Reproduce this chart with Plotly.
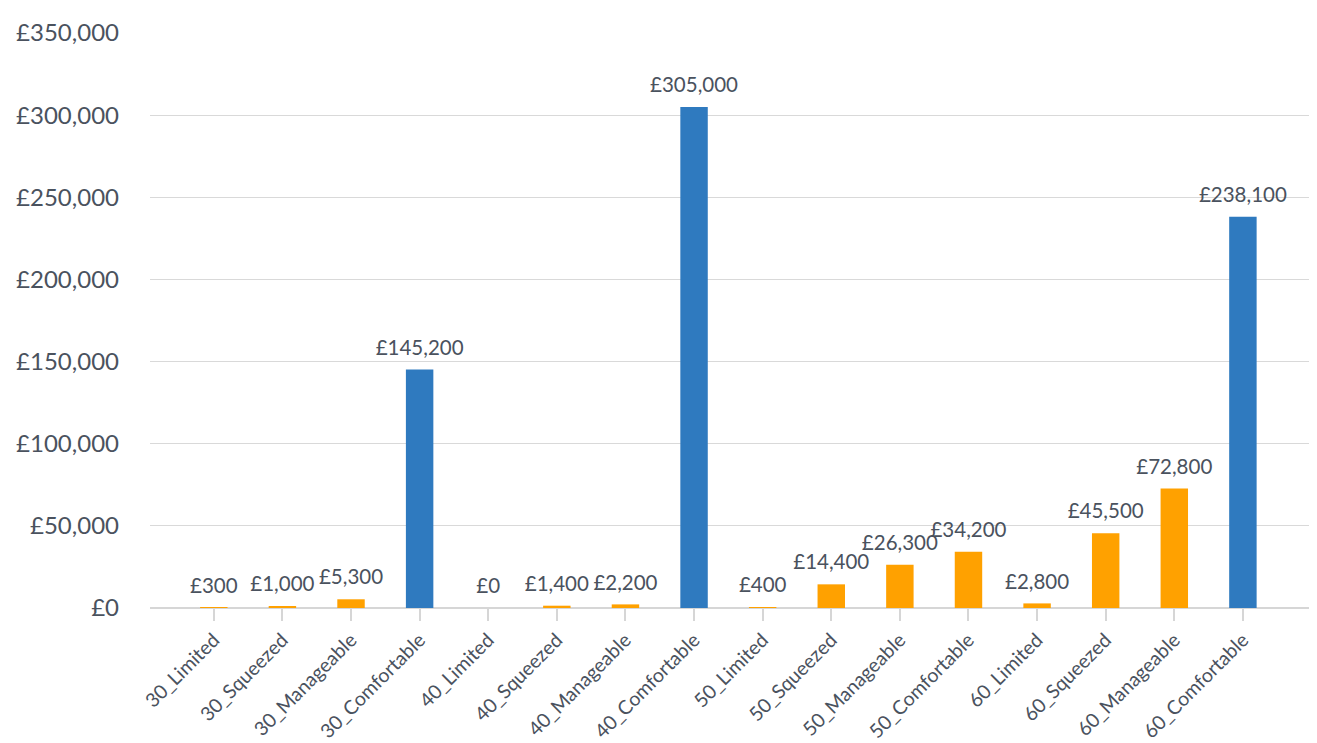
import plotly.graph_objects as go

categories = [
    "30_Limited", "30_Squeezed", "30_Manageable", "30_Comfortable",
    "40_Limited", "40_Squeezed", "40_Manageable", "40_Comfortable",
    "50_Limited", "50_Squeezed", "50_Manageable", "50_Comfortable",
    "60_Limited", "60_Squeezed", "60_Manageable", "60_Comfortable",
]
values = [300, 1000, 5300, 145200,
          0, 1400, 2200, 305000,
          400, 14400, 26300, 34200,
          2800, 45500, 72800, 238100]
highlighted = ["30_Comfortable", "40_Comfortable", "60_Comfortable"]
y_ticks = [0, 50000, 100000, 150000, 200000, 250000, 300000, 350000]

ORANGE = "#FFA100"
BLUE = "#2F7ABF"
TEXT = "#4A525E"
FONT = "Lato, Open Sans, sans-serif"

colors = [BLUE if c in highlighted else ORANGE for c in categories]
labels = [f"£{v:,}" for v in values]

fig = go.Figure()
fig.add_trace(go.Bar(
    x=categories, y=values,
    marker=dict(color=colors, line=dict(width=0)),
    width=0.4, hoverinfo="x+y",
))
# value labels above bars (invisible marker pushes text up a little)
fig.add_trace(go.Scatter(
    x=categories, y=values, mode="markers+text",
    marker=dict(size=14, opacity=0),
    text=labels, textposition="top center", cliponaxis=False,
    textfont=dict(size=20.5, color=TEXT, family=FONT),
    hoverinfo="skip",
))

# page body has an 8px margin, so the figure is a bit smaller and margins shifted
fig.update_layout(
    width=1309, height=735,
    plot_bgcolor="white", paper_bgcolor="white",
    margin=dict(l=142, r=0, t=25, b=135),
    showlegend=False,
    font=dict(family=FONT, color=TEXT),
)
fig.update_xaxes(
    type="category", range=[-0.93, 16.08], automargin=False,
    tickangle=-45, tickfont=dict(size=19.5, color=TEXT, family=FONT),
    ticks="outside", ticklen=12, tickcolor="#D6D6D6", tickwidth=2,
    showline=False, showgrid=False,
)
fig.update_yaxes(
    range=[0, 350000], tickvals=y_ticks, automargin=False,
    ticktext=[f"£{v:,}" for v in y_ticks],
    tickfont=dict(size=24, color=TEXT, family=FONT),
    showgrid=True, gridcolor="#D9D9D9", gridwidth=1,
    zeroline=True, zerolinecolor="#D6D6D6", zerolinewidth=2,
    ticklabelstandoff=30,
)

fig.write_html("out.html")
